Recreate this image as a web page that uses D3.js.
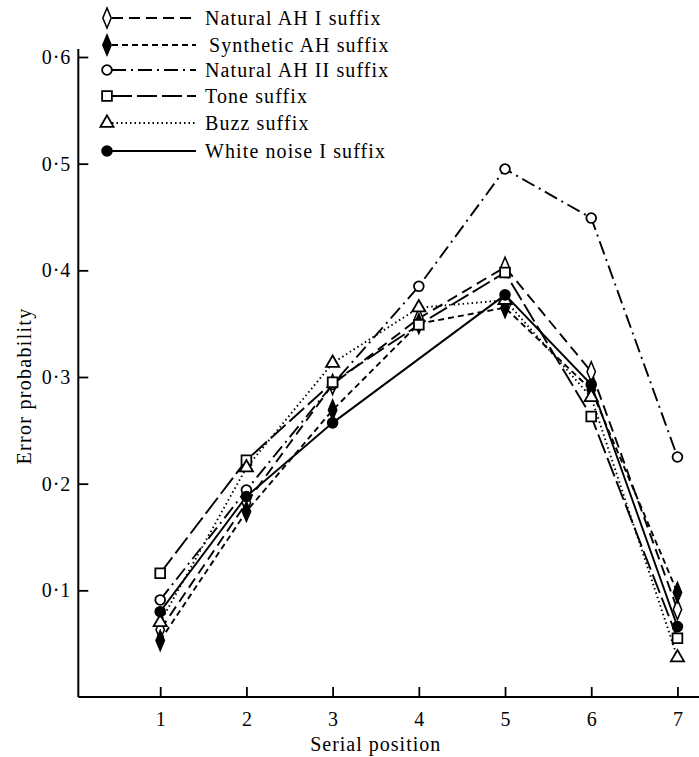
<!DOCTYPE html>
<html><head><meta charset="utf-8">
<script src="https://cdn.jsdelivr.net/npm/d3@7"></script>
<style>body{margin:0;background:#fff}</style>
</head><body>
<script>
const positions = [1,2,3,4,5,6,7];
const seriesNames = ["Natural AH I suffix","Synthetic AH suffix","Natural AH II suffix","Tone suffix","Buzz suffix","White noise I suffix"];
const naturalAH1 = [0.063,0.182,0.293,0.355,0.403,0.305,0.082];
const syntheticAH = [0.053,0.174,0.269,0.350,0.365,0.288,0.098];
const naturalAH2 = [0.091,0.194,0.293,0.385,0.495,0.449,0.225];
const tone = [0.116,0.222,0.295,0.349,0.398,0.263,0.055];
const buzz = [0.070,0.215,0.313,0.365,0.372,0.281,0.037];
const whiteNoise = [0.080,0.188,0.257,null,0.377,0.293,0.066];
const yTicks = [0.1,0.2,0.3,0.4,0.5,0.6];

const W=699,H=757;
const svg=d3.select("body").append("svg").attr("width",W).attr("height",H);
const x=d3.scaleLinear().domain([0,7.25]).range([74,699]);
const y=d3.scaleLinear().domain([0,0.6]).range([697,57]);
const font="'Liberation Serif','Times New Roman',serif";

const styles=[
 {vals:naturalAH1,dash:"11,6",sym:"diamond",fill:false},
 {vals:syntheticAH,dash:"6,4",sym:"diamond",fill:true},
 {vals:naturalAH2,dash:"14,5,2,5",sym:"circle",fill:false},
 {vals:tone,dash:"20,5",sym:"square",fill:false},
 {vals:buzz,dash:"1.5,3",sym:"triangle",fill:false},
 {vals:whiteNoise,dash:null,sym:"circle",fill:true}
];

// axes
const yAxis=d3.axisRight(y).tickValues(yTicks).tickSize(10).tickFormat(d=>d3.format(".1f")(d).replace(".","·"));
const gy=svg.append("g").attr("transform",`translate(${x(0.05)},0)`).call(yAxis);
gy.select(".domain").attr("d",`M0,${y(0.6)-8}V${y(0)}`).attr("stroke-width",2);
gy.selectAll(".tick line").attr("stroke-width",1.8);
gy.selectAll(".tick text").attr("x",-7).attr("text-anchor","end").attr("font-family",font).attr("font-size",20).attr("letter-spacing",1).attr("fill","#000");

const xAxis=d3.axisTop(x).tickValues(positions).tickSize(10).tickFormat(d3.format("d"));
const gx=svg.append("g").attr("transform",`translate(0,${y(0)})`).call(xAxis);
gx.select(".domain").attr("d",`M${x(0.05)},0H${W}`).attr("stroke-width",2);
gx.selectAll(".tick line").attr("stroke-width",1.8);
gx.selectAll(".tick text").attr("y",29).attr("font-family",font).attr("font-size",20).attr("fill","#000");

svg.append("text").attr("x",x(3.5)).attr("y",751).attr("text-anchor","middle").attr("font-family",font).attr("font-size",20).attr("letter-spacing",1).text("Serial position");
svg.append("text").attr("transform",`translate(31,386) rotate(-90)`).attr("text-anchor","middle").attr("font-family",font).attr("font-size",20).attr("letter-spacing",1.3).text("Error probability");

const symMap={diamond:d3.symbolDiamond,circle:d3.symbolCircle,square:d3.symbolSquare,triangle:d3.symbolTriangle};
const symSize={diamond:95,circle:75,square:95,triangle:75};

const line=d3.line().x(d=>x(d[0])).y(d=>y(d[1]));
styles.forEach(s=>{
  const pts=positions.map((p,i)=>[p,s.vals[i]]).filter(d=>d[1]!=null);
  svg.append("path").attr("d",line(pts)).attr("fill","none").attr("stroke","#000").attr("stroke-width",1.9)
    .attr("stroke-dasharray",s.dash);
});
styles.forEach(s=>{
  const pts=positions.map((p,i)=>[p,s.vals[i]]).filter(d=>d[1]!=null);
  svg.selectAll(null).data(pts).enter().append("path")
    .attr("d",d3.symbol().type(symMap[s.sym]).size(symSize[s.sym]))
    .attr("transform",d=>`translate(${x(d[0])},${y(d[1])})${s.sym==="diamond"?" scale(0.8,1.1)":""}`)
    .attr("fill",s.fill?"#000":"#fff").attr("stroke","#000").attr("stroke-width",1.8);
});

// legend
const legY=[18,45,70,96,123,151];
styles.forEach((s,i)=>{
  const g=svg.append("g").attr("transform",`translate(0,${legY[i]})`);
  g.append("line").attr("x1",112).attr("x2",196).attr("y1",0).attr("y2",0).attr("stroke","#000").attr("stroke-width",1.9).attr("stroke-dasharray",s.dash);
  g.append("path").attr("d",d3.symbol().type(symMap[s.sym]).size(symSize[s.sym]))
   .attr("transform",`translate(107,0)${s.sym==="diamond"?" scale(0.8,1.1)":""}`)
   .attr("fill",s.fill?"#000":"#fff").attr("stroke","#000").attr("stroke-width",1.8);
  g.append("text").attr("x",i===1?209:205).attr("y",7).attr("font-family",font).attr("font-size",20).attr("letter-spacing",1.1).text(seriesNames[i]);
});
</script>
</body></html>
